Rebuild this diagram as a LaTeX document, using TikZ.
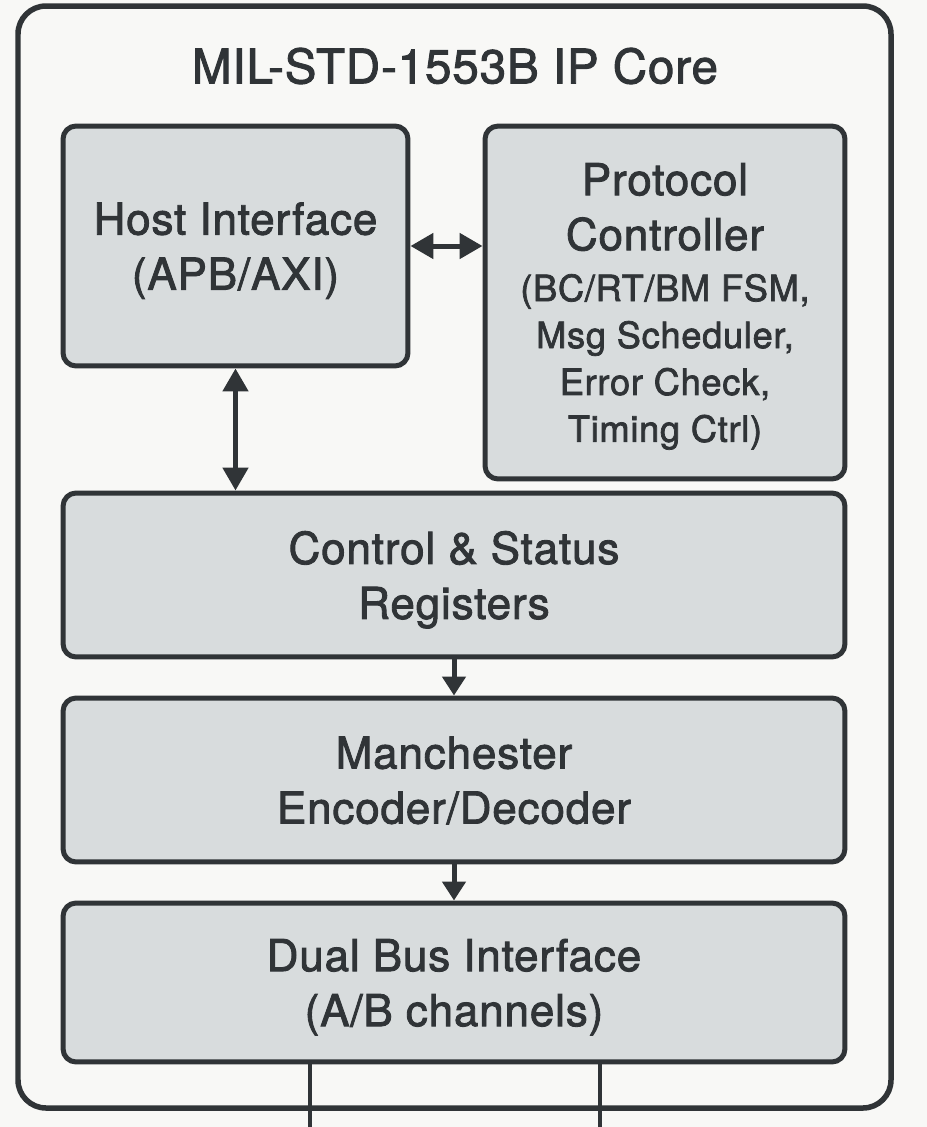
\documentclass[tikz,border=0pt]{standalone}
\usepackage{fontspec}
\setmainfont{TeX Gyre Heros}[FakeBold=2, LetterSpace=2]
\usetikzlibrary{arrows.meta}

\definecolor{ink}{HTML}{303437}
\definecolor{panel}{HTML}{D8DCDD}
\definecolor{paper}{HTML}{F8F8F6}
\newcommand\detailfont{\fontsize{20.6}{26.7}\selectfont}

\tikzset{
  block/.style={draw=ink, fill=panel, line width=0.1cm, rounded corners=0.26cm,
    align=center, text=ink, inner sep=0pt, text depth=0pt, font=\fontsize{25}{31.3}\selectfont},
  link/.style={draw=ink, line width=0.1cm, -{Triangle[length=0.38cm,width=0.46cm]}},
  duplex/.style={draw=ink, line width=0.1cm,
    {Triangle[length=0.46cm,width=0.5cm]}-{Triangle[length=0.46cm,width=0.5cm]}},
  wire/.style={draw=ink, line width=0.09cm},
}

\begin{document}
\begin{tikzpicture}[x=0.02cm, y=-0.02cm]
  \useasboundingbox[fill=paper] (0,0) rectangle (927,1127);
  \draw[ink, line width=0.11cm, rounded corners=0.56cm] (18,6) rectangle (891,1108);

  \node[text=ink, font=\fontsize{27}{32}\selectfont] (title) at (455,66) {MIL-STD-1553B IP Core};

  \node[block, minimum width=6.9cm, minimum height=4.8cm] (host) at (235.5,246)
    {Host Interface\\(APB/AXI)};
  \node[block, minimum width=7.2cm, minimum height=7.06cm] (proto) at (665,302.5)
    {Protocol\\Controller\\[-2.3pt]
     {\detailfont (BC/RT/BM FSM,}\\[-4.6pt]
     {\detailfont Msg Scheduler,}\\[-4.6pt]
     {\detailfont Error Check,}\\[-4.6pt]
     {\detailfont Timing Ctrl)}};
  \node[block, minimum width=15.64cm, minimum height=3.28cm] (regs) at (454,575)
    {Control \& Status\\Registers};
  \node[block, minimum width=15.64cm, minimum height=3.28cm] (codec) at (454,780)
    {Manchester\\Encoder/Decoder};
  \node[block, minimum width=15.64cm, minimum height=3.18cm] (bus) at (454,982.5)
    {Dual Bus Interface\\(A/B channels)};

  \draw[duplex] (host.east) -- (host.east -| proto.west);
  \draw[duplex] (host.south) -- (host.south |- regs.north);
  \draw[link] (regs.south) -- (codec.north);
  \draw[link] (codec.south) -- (bus.north);

  \coordinate (chanA) at (310,1127);
  \coordinate (chanB) at (600,1127);
  \draw[wire] (bus.south -| chanA) -- (chanA);
  \draw[wire] (bus.south -| chanB) -- (chanB);
\end{tikzpicture}
\end{document}
